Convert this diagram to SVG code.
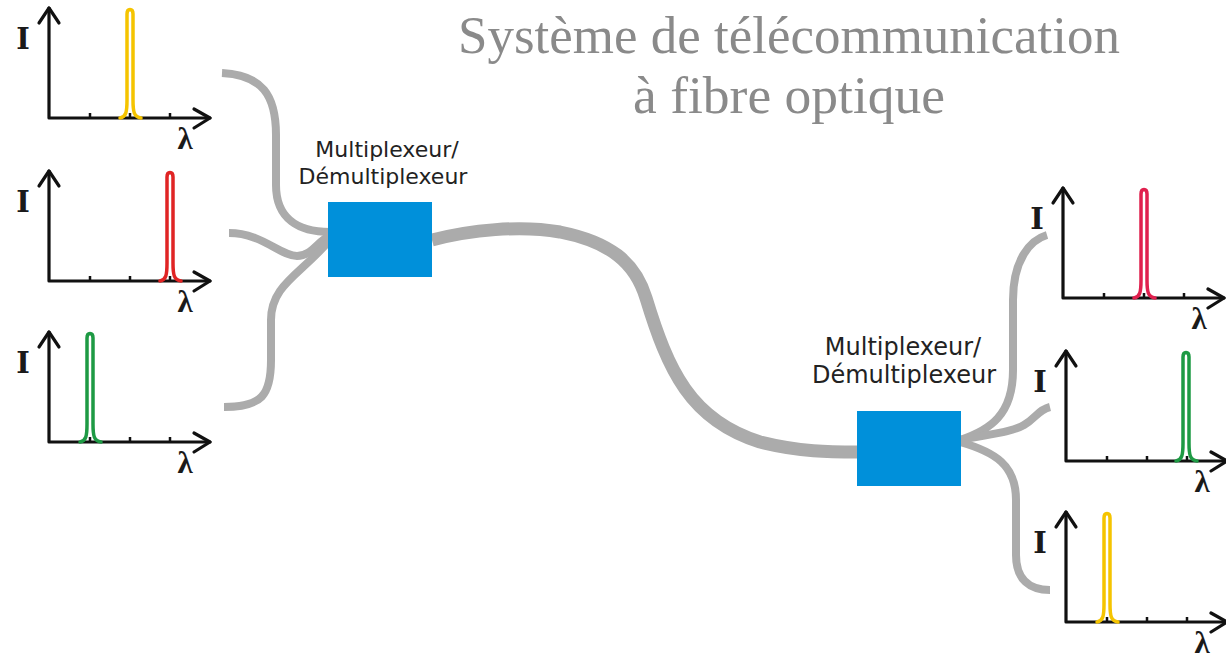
<svg xmlns="http://www.w3.org/2000/svg" xmlns:xlink="http://www.w3.org/1999/xlink" width="1226" height="655" viewBox="0 0 1226 655">
  <style>
    .axis { fill: none; stroke: #111; stroke-width: 3.2; stroke-linecap: round; stroke-linejoin: round; }
    .tick { fill: none; stroke: #111; stroke-width: 2.5; }
    .peak { fill: none; stroke-width: 3.5; stroke-linecap: round; stroke-linejoin: round; }
    .ilab { font-family: "DejaVu Serif", "Liberation Serif", serif; font-weight: bold; font-size: 29px; fill: #1a1a1a; text-anchor: middle; }
    .lam { font-family: "Liberation Serif", "DejaVu Serif", serif; font-weight: bold; font-size: 31px; fill: #1a1a1a; text-anchor: middle; }
    .fiber { fill: none; stroke: #ababab; stroke-width: 8; stroke-linecap: butt; }
    .trunk { fill: none; stroke: #ababab; stroke-width: 13; }
    .box { fill: #0090da; }
    .lbl { font-family: "DejaVu Sans", "Noto Sans", sans-serif; fill: #222; text-anchor: middle; }
    .title { font-family: "Liberation Serif", "Times New Roman", serif; font-size: 53px; fill: #8a8a8a; text-anchor: middle; }
  </style>
  <defs>
    <g id="chart">
      <path class="axis" d="M0,-110 L0,0 L161,0"/>
      <path class="axis" d="M-10,-95 L0,-110 L10,-95"/>
      <path class="axis" d="M145,-9 L161,0 L145,10"/>
      <path class="tick" d="M41,0 V-5 M81,0 V-5 M121,0 V-5"/>
      <text class="ilab" x="-26" y="-69">I</text>
      <text class="lam" x="136" y="31">λ</text>
    </g>
    <path id="spike" d="M-10,0 C-4,-1 -3,-6 -3,-18 L-3,-104 C-3,-110 3,-110 3,-104 L3,-18 C3,-6 4,-1 11,0"/>
  </defs>

  <g id="title">
    <text class="title" x="789" y="53" textLength="662" lengthAdjust="spacingAndGlyphs">Système de télécommunication</text>
    <text class="title" x="789" y="113" textLength="312" lengthAdjust="spacingAndGlyphs">à fibre optique</text>
  </g>

  <g id="connectors">
    <path class="fiber" d="M222,73 C262,75 276,95 276,135 L276,185 C276,220 300,232 330,232"/>
    <path class="fiber" d="M229,233 C262,233 280,256 297,256 C312,256 318,240 330,236"/>
    <path class="fiber" d="M224,407 C262,407 271,395 271,360 L271,320 C271,285 300,275 330,240"/>
    <path class="trunk" d="M432,240 C470,230 520,225 560,232 C610,242 635,262 646,298 C668,370 690,420 760,442 C800,452 830,452 858,452"/>
    <path class="fiber" d="M960,440 C990,430 1013,415 1013,370 L1013,300 C1013,260 1030,240 1047,235"/>
    <path class="fiber" d="M960,440 C990,434 1012,432 1024,425 C1036,418 1038,410 1050,407"/>
    <path class="fiber" d="M960,442 C995,452 1016,465 1016,500 L1016,555 C1016,580 1030,590 1050,590"/>
  </g>

  <g id="mux-left">
    <rect class="box" x="328" y="202" width="104" height="75"/>
    <text class="lbl" x="387" y="157" font-size="22">Multiplexeur/</text>
    <text class="lbl" x="383" y="184" font-size="22">Démultiplexeur</text>
  </g>
  <g id="mux-right">
    <rect class="box" x="857" y="411" width="104" height="75"/>
    <text class="lbl" x="903" y="355" font-size="24">Multiplexeur/</text>
    <text class="lbl" x="904" y="383" font-size="24">Démultiplexeur</text>
  </g>

  <g id="chart-in-1" transform="translate(49,118)">
    <use xlink:href="#chart"/>
    <use xlink:href="#spike" x="81" class="peak" stroke="#f5c400"/>
  </g>
  <g id="chart-in-2" transform="translate(49,281)">
    <use xlink:href="#chart"/>
    <use xlink:href="#spike" x="121" class="peak" stroke="#e02424"/>
  </g>
  <g id="chart-in-3" transform="translate(49,442)">
    <use xlink:href="#chart"/>
    <use xlink:href="#spike" x="41" class="peak" stroke="#1e9a44"/>
  </g>
  <g id="chart-out-1" transform="translate(1063,298)">
    <use xlink:href="#chart"/>
    <use xlink:href="#spike" x="81" class="peak" stroke="#e0204e"/>
  </g>
  <g id="chart-out-2" transform="translate(1066,461)">
    <use xlink:href="#chart"/>
    <use xlink:href="#spike" x="120" class="peak" stroke="#1e9a44"/>
  </g>
  <g id="chart-out-3" transform="translate(1066,622)">
    <use xlink:href="#chart"/>
    <use xlink:href="#spike" x="41" class="peak" stroke="#f5c400"/>
  </g>
</svg>
